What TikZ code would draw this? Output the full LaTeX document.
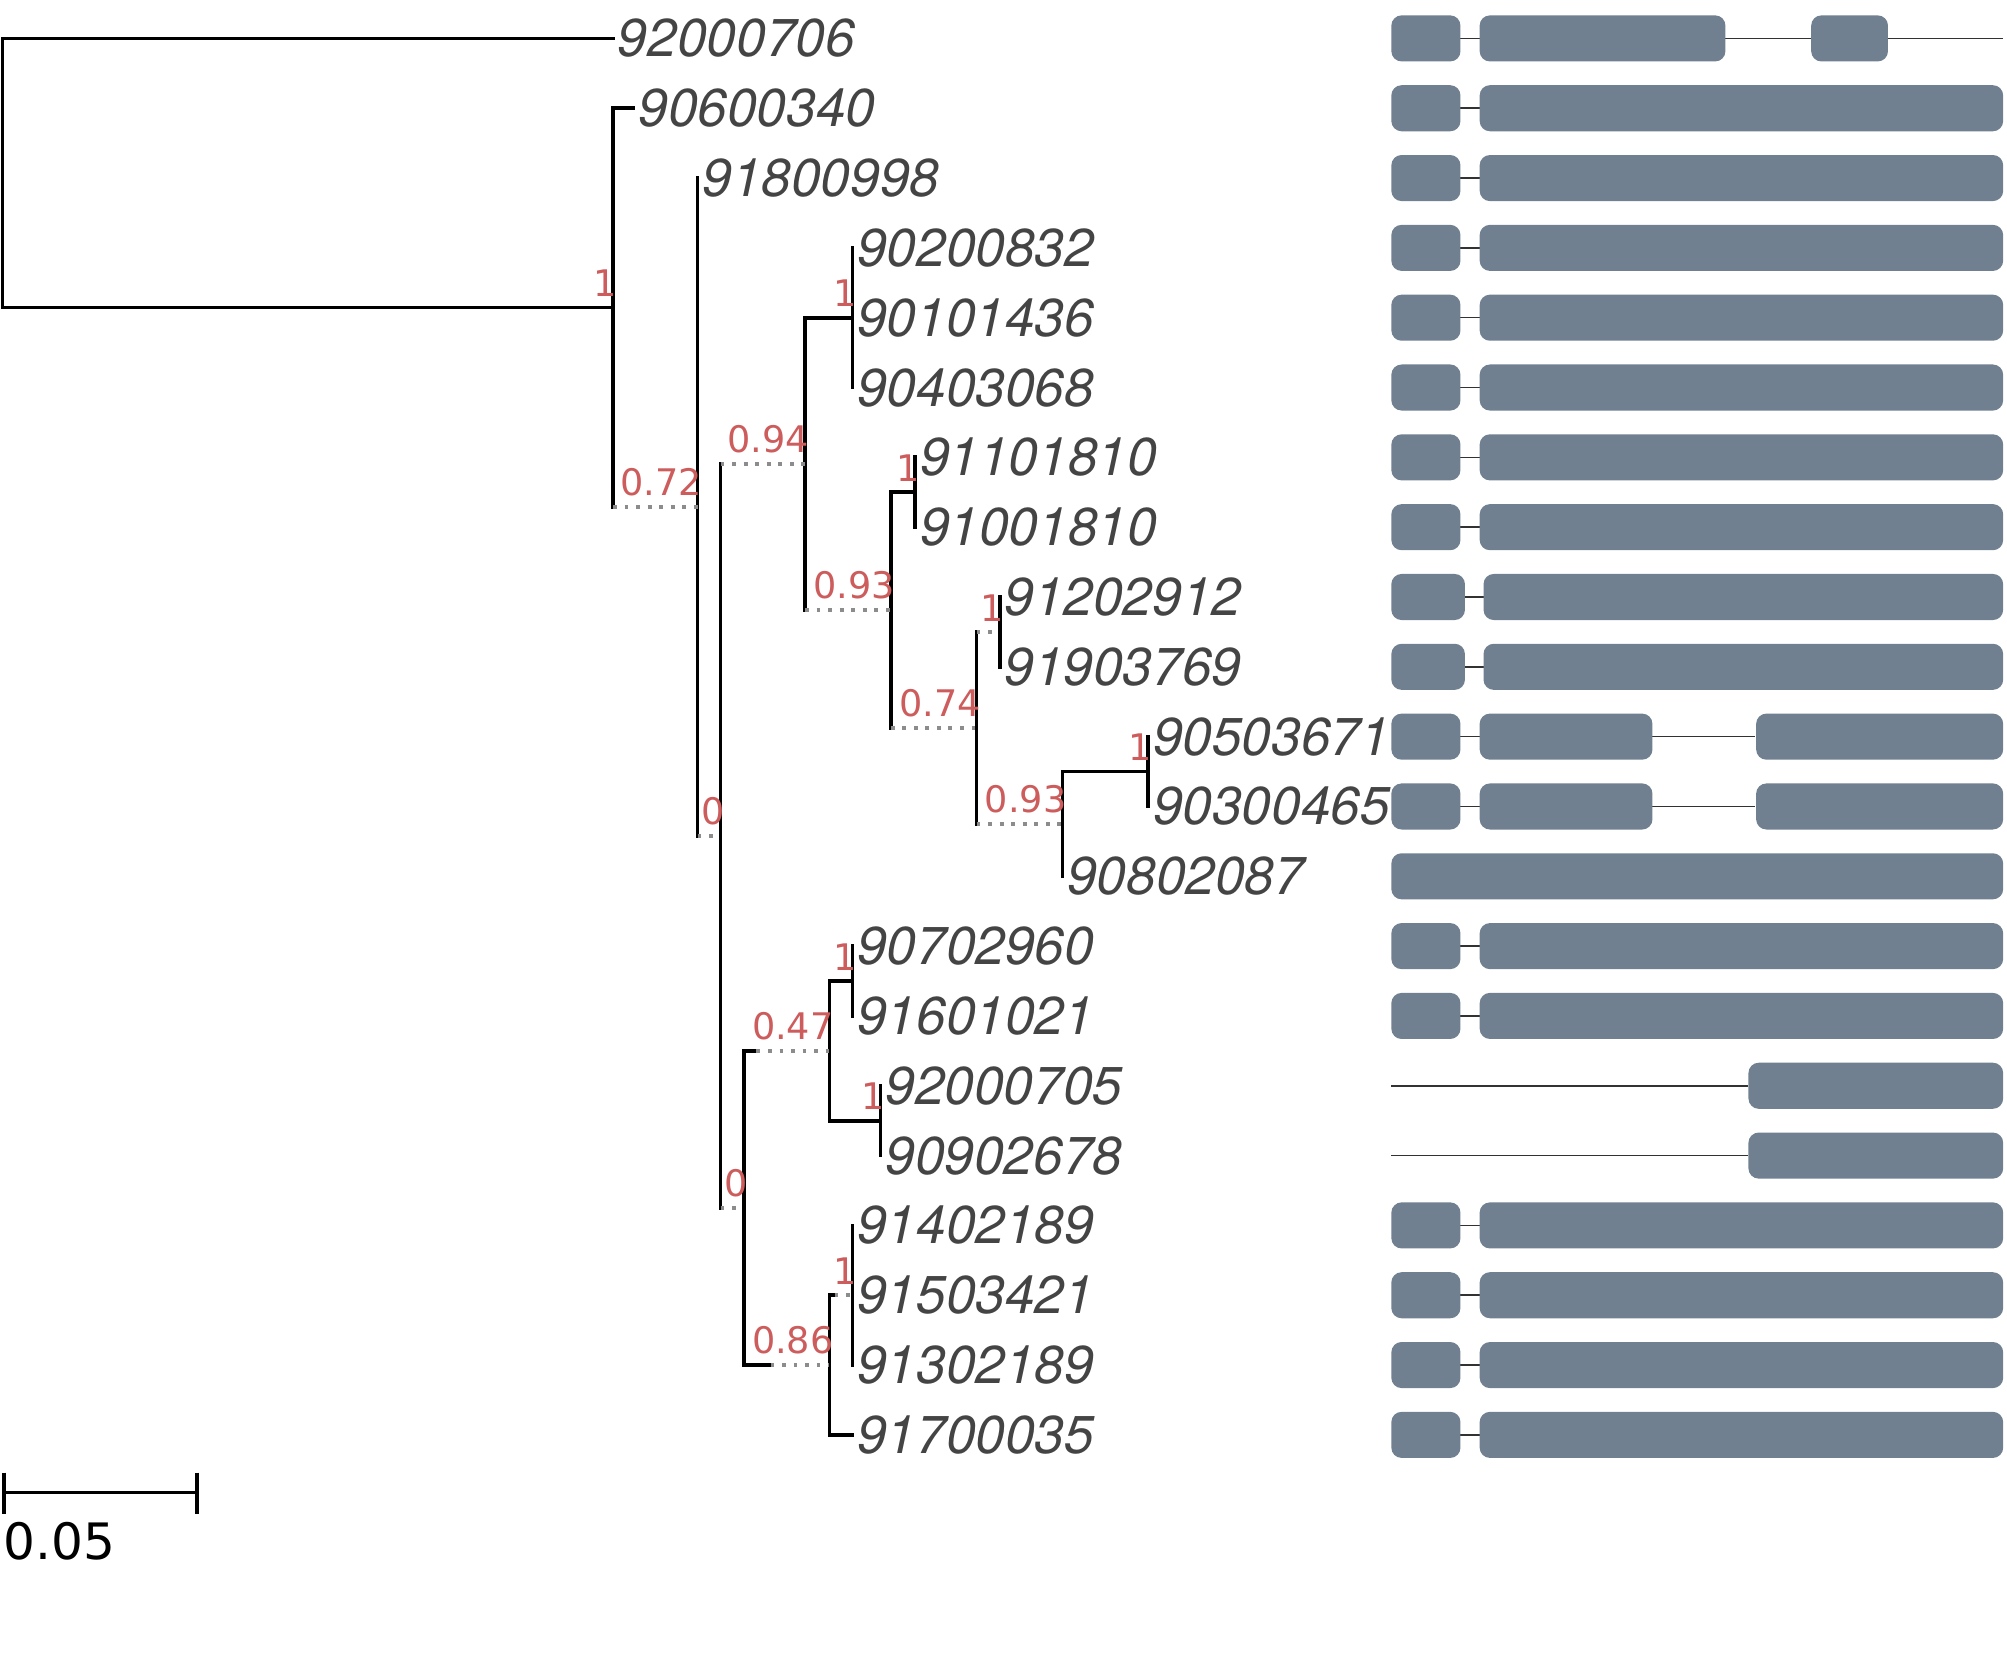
\documentclass[tikz,border=0pt]{standalone}
\usepackage{fontspec}
\newfontfamily\leaffont{TeX Gyre Heros}
\newfontfamily\supfont{DejaVu Sans}
\definecolor{slate}{RGB}{112,128,144}
\definecolor{supred}{RGB}{205,92,92}
\definecolor{leafgray}{RGB}{68,68,68}
\definecolor{dotgray}{RGB}{140,140,140}
\definecolor{introngray}{RGB}{50,50,50}
\begin{document}
\begin{tikzpicture}[x=0.5pt,y=-0.5pt,
  br/.style={line width=1.45pt, black, line cap=rect},
  dt/.style={line width=1.45pt, color=dotgray, dash pattern=on 1.5pt off 3pt},
  leaf/.style={anchor=west, inner sep=0pt, text=leafgray, font=\leaffont\itshape\fontsize{20.8}{24}\selectfont},
  sup/.style={anchor=south east, inner sep=0pt, text=supred, font=\supfont\fontsize{14.3}{16}\selectfont},
  exon/.style={fill=slate, draw=none, rounded corners=4pt},
  intron/.style={line width=0.6pt, color=introngray}]
\useasboundingbox (0,0) rectangle (1568,1303);

% ---------- internal node coordinates ----------
\coordinate (R) at (2,30);
\coordinate (A) at (479,240.3);
\coordinate (B) at (545,396.08);
\coordinate (C) at (563,653.06);
\coordinate (D) at (629,362.41);
\coordinate (E) at (666,248.2);
\coordinate (F) at (696,476.63);
\coordinate (G) at (715,384.575);
\coordinate (H) at (763,568.68);
\coordinate (I) at (781,493.675);
\coordinate (J) at (830,643.69);
\coordinate (K) at (897,602.775);
\coordinate (L) at (581,943.71);
\coordinate (M) at (648,820.975);
\coordinate (N) at (666,766.425);
\coordinate (O) at (688,875.525);
\coordinate (P) at (648,1066.45);
\coordinate (Q) at (666,1011.9);

% ---------- leaf end points ----------
\coordinate (t0) at (479,30);
\coordinate (t1) at (495,84.55);
\coordinate (t2) at (545,139.1);
\coordinate (t3) at (666,193.65);
\coordinate (t4) at (666,248.2);
\coordinate (t5) at (666,302.75);
\coordinate (t6) at (715,357.3);
\coordinate (t7) at (715,411.85);
\coordinate (t8) at (781,466.4);
\coordinate (t9) at (781,520.95);
\coordinate (t10) at (897,575.5);
\coordinate (t11) at (897,630.05);
\coordinate (t12) at (830,684.6);
\coordinate (t13) at (666,739.15);
\coordinate (t14) at (666,793.7);
\coordinate (t15) at (688,848.25);
\coordinate (t16) at (688,902.8);
\coordinate (t17) at (666,957.35);
\coordinate (t18) at (666,1011.9);
\coordinate (t19) at (666,1066.45);
\coordinate (t20) at (666,1121);

% ---------- leaf labels ----------
\foreach \i/\name in {0/92000706,1/90600340,2/91800998,3/90200832,4/90101436,
  5/90403068,6/91101810,7/91001810,8/91202912,9/91903769,10/90503671,
  11/90300465,12/90802087,13/90702960,14/91601021,15/92000705,16/90902678,
  17/91402189,18/91503421,19/91302189,20/91700035}
  \node[leaf] (lab\i) at ([xshift=1.7pt]t\i) {\name};

% ---------- vertical lines ----------
\draw[br] (R) -- (R |- A);
\draw[br] (A |- t1) -- (A |- B);
\draw[br] (B |- t2) -- (B |- C);
\draw[br] (C |- D) -- (C |- L);
\draw[br] (D |- E) -- (D |- F);
\draw[br] (E |- t3) -- (E |- t5);
\draw[br] (F |- G) -- (F |- H);
\draw[br] (G |- t6) -- (G |- t7);
\draw[br] (H |- I) -- (H |- J);
\draw[br] (I |- t8) -- (I |- t9);
\draw[br] (J |- K) -- (J |- t12);
\draw[br] (K |- t10) -- (K |- t11);
\draw[br] (L |- M) -- (L |- P);
\draw[br] (M |- N) -- (M |- O);
\draw[br] (N |- t13) -- (N |- t14);
\draw[br] (O |- t15) -- (O |- t16);
\draw[br] (P |- Q) -- (P |- t20);
\draw[br] (Q |- t17) -- (Q |- t19);

% ---------- horizontal branches ----------
\draw[br] (R) -- (t0);
\draw[br] (R |- A) -- (A);
\draw[br] (A |- t1) -- (t1);
\draw[dt] (A |- B) -- (B);
\draw[dt] (B |- C) -- (C);
\draw[dt] (C |- D) -- (D);
\draw[br] (D |- E) -- (E);
\draw[dt] (D |- F) -- (F);
\draw[br] (F |- G) -- (G);
\draw[dt] (F |- H) -- (H);
\draw[dt] (H |- I) -- (I);
\draw[dt] (H |- J) -- (J);
\draw[br] (J |- K) -- (K);
\draw[dt] (C |- L) -- (L);
\draw[br] (L |- M) -- ([xshift=5pt]L |- M);
\draw[dt] ([xshift=5pt]L |- M) -- (M);
\draw[br] (M |- N) -- (N);
\draw[br] (M |- O) -- (O);
\draw[br] (L |- P) -- ([xshift=10.5pt]L |- P);
\draw[dt] ([xshift=10.5pt]L |- P) -- (P);
\draw[br] (P |- Q) -- ([xshift=2pt]P |- Q);
\draw[dt] ([xshift=2pt]P |- Q) -- (Q);
\draw[br] (P |- t20) -- (t20);

% ---------- support values ----------
\tikzset{supat/.style={xshift=1.8pt,yshift=4pt}}
\node[sup] (sA) at ([supat]A) {1};
\node[sup] (sB) at ([supat]B) {0.72};
\node[sup] (sC) at ([supat]C) {0};
\node[sup] (sD) at ([supat]D) {0.94};
\node[sup] (sE) at ([supat]E) {1};
\node[sup] (sF) at ([supat]F) {0.93};
\node[sup] (sG) at ([supat]G) {1};
\node[sup] (sH) at ([supat]H) {0.74};
\node[sup] (sI) at ([supat]I) {1};
\node[sup] (sJ) at ([supat]J) {0.93};
\node[sup] (sK) at ([supat]K) {1};
\node[sup] (sL) at ([supat]L) {0};
\node[sup] (sM) at ([supat]M) {0.47};
\node[sup] (sN) at ([supat]N) {1};
\node[sup] (sO) at ([supat]O) {1};
\node[sup] (sP) at ([supat]P) {0.86};
\node[sup] (sQ) at ([supat]Q) {1};

% ---------- scale bar ----------
\coordinate (sb1) at (3,1166);
\coordinate (sb2) at (154,1166);
\draw[br, line cap=butt] (sb1) -- (sb2);
\draw[br, line cap=butt] ([yshift=7.8pt]sb1) -- ([yshift=-8.4pt]sb1);
\draw[br, line cap=butt] ([yshift=7.8pt]sb2) -- ([yshift=-8.4pt]sb2);
\node[anchor=south west, inner sep=0pt, font=\supfont\fontsize{19.6}{22}\selectfont] (sbl) at (2.5,1219) {0.05};

% ---------- gene structures ----------
\def\hh{18}
% rows with a short first exon and a long second exon
\foreach \y in {84.55,139.1,193.65,248.2,302.75,357.3,411.85,739.15,793.7,957.35,1011.9,1066.45,1121}{
  \draw[intron] (1141,\y) -- (1156,\y);
  \fill[exon] (1087,\y-\hh) rectangle (1141,\y+\hh);
  \fill[exon] (1156,\y-\hh) rectangle (1565,\y+\hh);
}
% row 0
\draw[intron] (1141,30) -- (1565,30);
\fill[exon] (1087,12) rectangle (1141,48);
\fill[exon] (1156,12) rectangle (1348,48);
\fill[exon] (1415,12) rectangle (1475,48);
% rows 8,9
\foreach \y in {466.4,520.95}{
  \draw[intron] (1144,\y) -- (1159,\y);
  \fill[exon] (1087,\y-\hh) rectangle (1144.5,\y+\hh);
  \fill[exon] (1159,\y-\hh) rectangle (1565,\y+\hh);
}
% rows 10,11
\foreach \y in {575.5,630.05}{
  \draw[intron] (1141,\y) -- (1371,\y);
  \fill[exon] (1087,\y-\hh) rectangle (1141,\y+\hh);
  \fill[exon] (1156,\y-\hh) rectangle (1291,\y+\hh);
  \fill[exon] (1372,\y-\hh) rectangle (1565,\y+\hh);
}
% row 12
\fill[exon] (1087,684.6-\hh) rectangle (1565,684.6+\hh);
% rows 15,16
\foreach \y in {848.25,902.8}{
  \draw[intron] (1087,\y) -- (1366,\y);
  \fill[exon] (1366,\y-\hh) rectangle (1565,\y+\hh);
}
\end{tikzpicture}
\end{document}
